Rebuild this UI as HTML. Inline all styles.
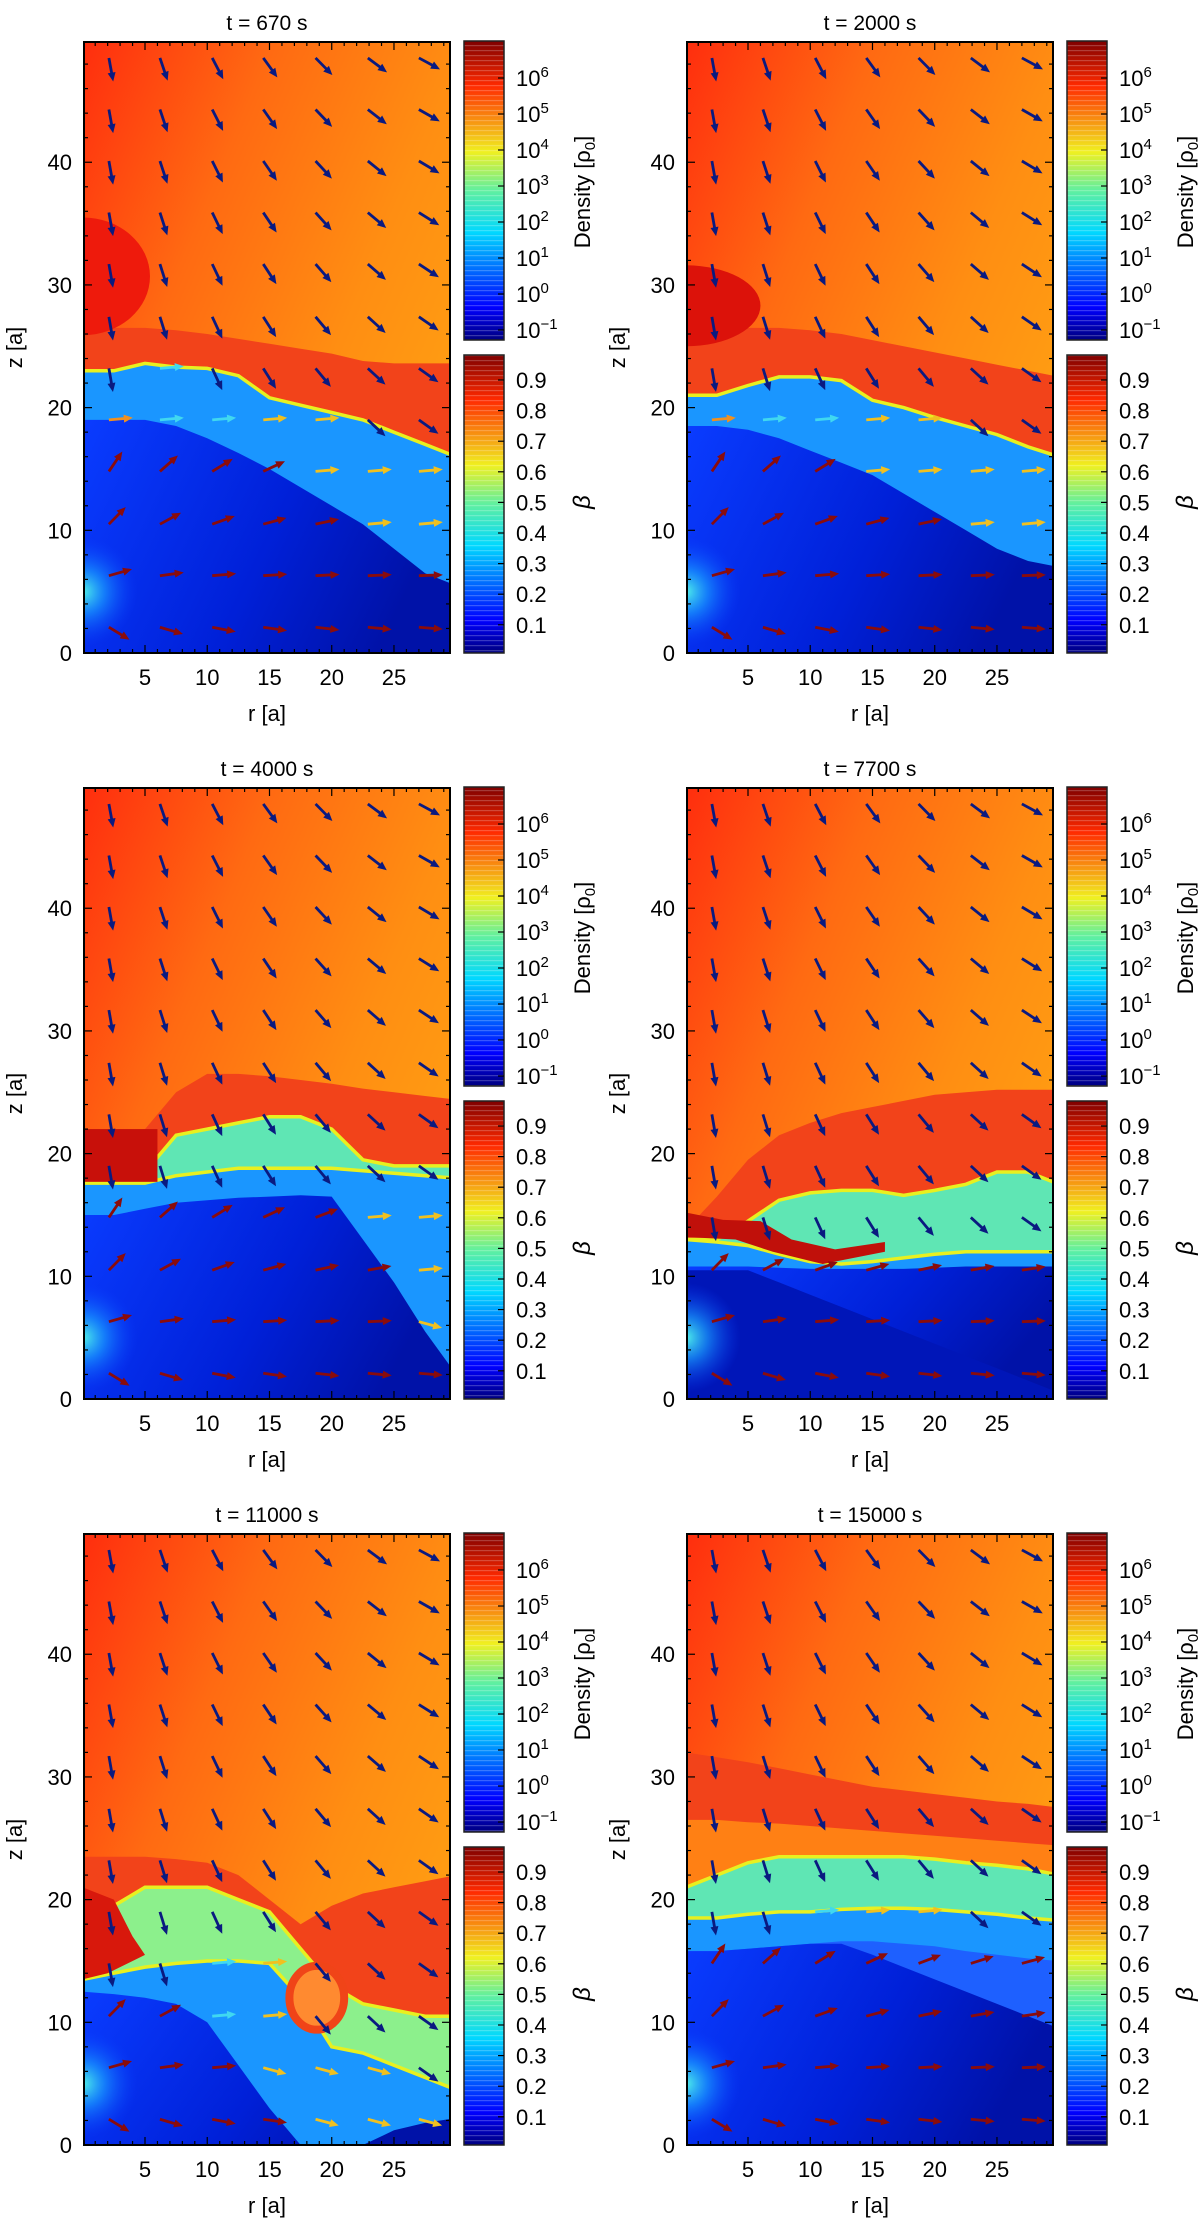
<!DOCTYPE html>
<html><head><meta charset="utf-8"><title>Density and beta snapshots</title>
<style>
html,body{margin:0;padding:0;background:#fff;}
svg text{font-family:"Liberation Sans",sans-serif;fill:#000;}
</style></head>
<body>
<svg id="fig" width="1200" height="2219" viewBox="0 0 1200 2219" xmlns="http://www.w3.org/2000/svg">
<defs>
<linearGradient id="bgGrad" x1="0" y1="0" x2="1" y2="0.7">
<stop offset="0" stop-color="#ff2e0e"/><stop offset="0.35" stop-color="#ff6a12"/><stop offset="0.7" stop-color="#ff8e12"/><stop offset="1" stop-color="#ffa012"/></linearGradient>
<linearGradient id="blueGrad" x1="0" y1="0" x2="1" y2="0.3">
<stop offset="0" stop-color="#0a3cff"/><stop offset="0.6" stop-color="#0020d8"/><stop offset="1" stop-color="#0012a8"/></linearGradient>
<radialGradient id="glow" cx="0.5" cy="0.5" r="0.5">
<stop offset="0" stop-color="#4ff0e8" stop-opacity="1"/><stop offset="0.4" stop-color="#1a9cff" stop-opacity="0.7"/><stop offset="1" stop-color="#0a3cff" stop-opacity="0"/></radialGradient>
<linearGradient id="jet" x1="0" y1="1" x2="0" y2="0">
<stop offset="0" stop-color="#00007f"/><stop offset="0.11" stop-color="#0000ff"/><stop offset="0.36" stop-color="#00d8ff"/><stop offset="0.5" stop-color="#60f0a0"/><stop offset="0.63" stop-color="#f0f020"/><stop offset="0.85" stop-color="#ff2a00"/><stop offset="1" stop-color="#7f0000"/></linearGradient>
<pattern id="stripes" width="4" height="5" patternUnits="userSpaceOnUse"><rect width="4" height="1.2" fill="#ffffff" fill-opacity="0.22"/></pattern>
</defs>
</svg>
<script>
// ---- shared grids ----
const rGrid = [0,2.5,5,7.5,10,12.5,15,17.5,20,22.5,25,27.5,30];
const panelTitles = ["t = 670 s","t = 2000 s","t = 4000 s","t = 7700 s","t = 11000 s","t = 15000 s"];
const rTicks = [5,10,15,20,25];
const zTicks = [0,10,20,30,40];
const densityTickExp = ["6","5","4","3","2","1","0","\u22121"];
const betaTicks = ["0.9","0.8","0.7","0.6","0.5","0.4","0.3","0.2","0.1"];
const arrowR = [2.1,6.2,10.4,14.5,18.7,22.9,27.0];
const arrowZ = [2.1,6.3,10.5,14.8,19.0,23.2,27.4,31.7,35.9,40.1,44.3,48.5];
// ---- per-panel structure boundaries (z in units of a, sampled on rGrid) ----
const bandTop = [
 [26.5,26.5,26.5,26.3,26,25.6,25.2,24.8,24.4,23.8,23.6,23.6,23.6],
 [26.5,26.5,26.5,26.5,26.3,26,25.5,25,24.5,24,23.5,23,22.5],
 [21.5,21.5,22,25,26.5,26.5,26.3,26,25.7,25.3,25,24.7,24.4],
 [13.8,16.5,19.5,21.5,22.5,23.3,23.8,24.3,24.8,25,25.2,25.2,25.2],
 [23.5,23.5,23.5,23.3,23,22,20,18,19.5,20.5,21,21.5,22],
 [32,31.6,31.2,30.7,30.2,29.7,29.2,28.9,28.6,28.3,28,27.8,27.5]];
const bandBottom = [null,null,null,null,null,
 [26.5,26.5,26.3,26.2,26,25.8,25.6,25.4,25.2,25,24.8,24.6,24.4]];
const greenTop = [null,null,
 [18,18,18.5,21.5,22,22.5,23,23,22,19.5,19,19,19],
 [13,13,14.5,16.2,16.8,17,17,16.6,17,17.5,18.5,18.5,17.5],
 [18.5,19.5,21,21,21,20,19,16,13,11.5,11,10.5,10.5],
 [21,22,23,23.5,23.5,23.5,23.5,23.5,23.3,23,22.8,22.5,22]];
const cyanTop = [
 [23,23,23.6,23.3,23.2,22.6,20.8,20.2,19.6,19,18,17,16],
 [21,21,21.8,22.5,22.5,22.2,20.6,20,19.2,18.5,17.8,16.8,16],
 [17.6,17.6,17.6,18.2,18.5,18.8,18.8,18.8,18.8,18.6,18.4,18.2,18],
 [13,12.8,12.5,11.8,11.2,11,11.2,11.5,11.8,12,12,12,12],
 [13.5,14,14.5,14.8,15,15,14.8,12,8,7.5,6.5,5.5,4.5],
 [18.5,18.5,18.8,19,19,19.2,19.3,19.3,19.2,19,18.8,18.5,18.3]];
const blueTop = [
 [19,19,19,18.5,17.5,16.3,15,13.5,12,10.5,8.5,6.5,5.5],
 [18.5,18.5,18.2,17.5,16.5,15.5,14.5,13,11.5,10,8.5,7.5,7],
 [15,15,15.5,16,16.2,16.4,16.5,16.6,16.5,13,9.5,5.5,2],
 [10.8,10.8,10.8,10.7,10.6,10.6,10.6,10.6,10.7,10.8,10.8,10.8,10.8],
 [12.5,12.3,12,11.5,10,6.5,3,0,0,0,1.2,1.8,2.2],
 [15.8,15.8,16,16.2,16.4,16.6,16.6,16.4,16.2,15.8,15.5,15.2,15]];
const wedgeTop = [null,null,null,
 [10.5,10.5,10.5,9.5,8.5,7.5,6.5,5.5,4.5,3.5,2.5,1.5,0.5],
 null,
 [15.8,15.8,16,16.2,16.4,16.4,15.5,14.5,13.5,12.5,11.5,10.5,9.5]];
const blueFill = ['url(#blueGrad)','url(#blueGrad)','url(#blueGrad)','url(#blueGrad)','url(#blueGrad)','#1e60ff'];
const wedgeFill = [null,null,null,'#0016b8',null,'url(#blueGrad)'];

const NS = "http://www.w3.org/2000/svg";
const svg = document.getElementById('fig');
const colX = [84,687], rowY = [42,788,1534];
const PW = 366, PH = 611, R0 = 0.1, R1 = 29.5, Z1 = 49.8;

function mk(tag, attrs, parent){
  const e = document.createElementNS(NS, tag);
  for (const k in attrs) e.setAttribute(k, attrs[k]);
  (parent||svg).appendChild(e); return e;
}
function interp(arr, r){
  for (let i=0;i<rGrid.length-1;i++){
    if (r<=rGrid[i+1]){ const t=(r-rGrid[i])/(rGrid[i+1]-rGrid[i]); return arr[i]+(arr[i+1]-arr[i])*t; }
  }
  return arr[arr.length-1];
}

for (let p=0;p<6;p++){
  const L = colX[p%2], T = rowY[Math.floor(p/2)];
  const xs = r => L + (r-R0)/(R1-R0)*PW;
  const ys = z => T + PH - z/Z1*PH;
  const g = mk('g', {});
  
  
  const clipId = 'clip'+p;
  const cp = mk('clipPath', {id:clipId}, g);
  mk('rect', {x:L,y:T,width:PW,height:PH}, cp);
  const plot = mk('g', {'clip-path':'url(#'+clipId+')'}, g);
  
  
  mk('rect', {x:L,y:T,width:PW,height:PH,fill:'url(#bgGrad)'}, plot);

  function layer(arr, fill, name, stroke){
    if (!arr) return;
    let d = 'M'+xs(rGrid[0])+','+ys(0);
    rGrid.forEach((r,i)=>{ d += ' L'+xs(r).toFixed(1)+','+ys(arr[i]).toFixed(1); });
    d += ' L'+xs(30)+','+ys(0)+' Z';
    const e = mk('path', {d:d, fill:fill}, plot);
    
    
    if (stroke){
      let d2 = '';
      rGrid.forEach((r,i)=>{ d2 += (i?' L':'M')+xs(r).toFixed(1)+','+ys(arr[i]).toFixed(1); });
      const s = mk('path', {d:d2, fill:'none', stroke:stroke, 'stroke-width':3.5}, plot);
      
      
    }
  }
  layer(bandTop[p], '#f2431a', 'shock-band');
  layer(bandBottom[p], '#ff8014', 'shocked-wind');
  if (p===0){ const e=mk('ellipse',{cx:xs(0),cy:ys(30.7),rx:5.4/(R1-R0)*PW,ry:4.8/Z1*PH,fill:'#ee1a0c'},plot);
      }
  if (p===1){ const e=mk('ellipse',{cx:xs(0),cy:ys(28.3),rx:6/(R1-R0)*PW,ry:3.3/Z1*PH,fill:'#dc120a'},plot);
      }
  layer(greenTop[p], p===4 ? '#8cf08c' : '#5fe6b4', 'mixing-layer', '#e8f020');
  layer(cyanTop[p], '#1a96ff', 'wind-layer', '#e8f020');
  layer(blueTop[p], blueFill[p], 'cavity');
  layer(wedgeTop[p], wedgeFill[p], 'cavity-shadow');
  if (p===2){ const e=mk('rect',{x:xs(0),y:ys(22),width:6/(R1-R0)*PW,height:4.3/Z1*PH,fill:'#c8100a'},plot);
      }
  if (p===3){ const pts=[[0,15.2],[3,14.6],[6,14.5],[8.5,13],[12,12.2],[16,12.8],[16,12],[11,11],[7,12],[4,13],[0,13.2]];
    const e=mk('polygon',{points:pts.map(q=>xs(q[0])+','+ys(q[1])).join(' '),fill:'#c0100a'},plot);
      }
  if (p===4){
    const e=mk('polygon',{points:[[0,21],[2.5,20],[4,17],[5,15.5],[2,14],[0,13.5]].map(q=>xs(q[0])+','+ys(q[1])).join(' '),fill:'#d8180c'},plot);
     
    const s=mk('ellipse',{cx:xs(18.8),cy:ys(12),rx:2.2/(R1-R0)*PW,ry:2.6/Z1*PH,fill:'#ff8a30',stroke:'#f04418','stroke-width':8},plot);
     
  }
  const gl = mk('ellipse', {cx:xs(0), cy:ys(5), rx:55, ry:55, fill:'url(#glow)'}, plot);
   

  arrowR.forEach(r=>{ arrowZ.forEach(z=>{
    let col, ang;
    const cT = interp(cyanTop[p], r), bT = interp(blueTop[p], r);
    if (z >= cT){ col = '#0a1a80'; ang = -(84 - 1.8*r - Math.max(0,z-25)*0.3*(r/27)); }
    else if (z >= bT){ col = r<4 ? '#f09020' : (r<12 ? '#40d8f0' : '#f0c020'); ang = (z>10? 5 : -15); }
    else { col = '#8a0c0c'; ang = Math.atan2(z-5, r+1.5)*180/Math.PI*0.8; if (z<4) ang = Math.max(ang,-45); }
    const len = 24, a = ang*Math.PI/180;
    const x0 = xs(r), y0 = ys(z), x1 = x0+len*Math.cos(a), y1 = y0-len*Math.sin(a);
    const ag = mk('g', {}, plot);
    
    
    const ux=Math.cos(a), uy=-Math.sin(a), hx=x1-9*ux, hy=y1-9*uy;
    mk('line',{x1:x0,y1:y0,x2:hx+2*ux,y2:hy+2*uy,stroke:col,'stroke-width':2.8},ag);
    mk('polygon',{points:x1+','+y1+' '+(hx-4*uy)+','+(hy+4*ux)+' '+(hx+4*uy)+','+(hy-4*ux),fill:col},ag);
  });});

  const fr = mk('rect',{x:L,y:T,width:PW,height:PH,fill:'none',stroke:'#000','stroke-width':2},g);
   
  for (let r=1;r<=29;r++){ const len = r%5===0?8:4;
    mk('line',{x1:xs(r),y1:T+PH,x2:xs(r),y2:T+PH-len,stroke:'#000','stroke-width':1.2},g);
    mk('line',{x1:xs(r),y1:T,x2:xs(r),y2:T+len,stroke:'#000','stroke-width':1.2},g); }
  for (let z=2;z<=48;z+=2){ const len = z%10===0?8:4;
    mk('line',{x1:L,y1:ys(z),x2:L+len,y2:ys(z),stroke:'#000','stroke-width':1.2},g);
    mk('line',{x1:L+PW,y1:ys(z),x2:L+PW-len,y2:ys(z),stroke:'#000','stroke-width':1.2},g); }
  rTicks.forEach(v=>{ const t=mk('text',{x:xs(v),y:T+PH+32,'font-size':22,'text-anchor':'middle'},g); t.textContent=v;
      });
  zTicks.forEach(v=>{ const t=mk('text',{x:L-12,y:ys(v)+8,'font-size':22,'text-anchor':'end'},g); t.textContent=v;
      });
  const tt=mk('text',{x:L+PW/2,y:T-12,'font-size':21,'text-anchor':'middle'},g); tt.textContent=panelTitles[p];
   
  const xl=mk('text',{x:L+PW/2,y:T+PH+68,'font-size':22,'text-anchor':'middle'},g); xl.textContent='r  [a]';
   
  const zl=mk('text',{x:0,y:0,'font-size':22,'text-anchor':'middle',transform:'translate('+(L-62)+','+(T+PH/2)+') rotate(-90)'},g); zl.textContent='z [a]';
   

  const CL = L+380, CW = 40;
  [[T-1,T+298,'density-colorbar'],[T+313,T+PH,'beta-colorbar']].forEach(([y0,y1,nm])=>{
    const cg = mk('g',{},g);
    
    
    mk('rect',{x:CL,y:y0,width:CW,height:y1-y0,fill:'url(#jet)'},cg);
    mk('rect',{x:CL,y:y0,width:CW,height:y1-y0,fill:'url(#stripes)'},cg);
    mk('rect',{x:CL,y:y0,width:CW,height:y1-y0,fill:'none',stroke:'#222','stroke-width':1.5},cg);
  });
  densityTickExp.forEach((e,i)=>{ const y = T+36+i*36;
    mk('line',{x1:CL+CW-6,y1:y,x2:CL+CW,y2:y,stroke:'#000','stroke-width':1.2},g);
    const t=mk('text',{x:CL+52,y:y+8,'font-size':22},g);
     
    t.appendChild(document.createTextNode('10'));
    const s=mk('tspan',{dy:-9,'font-size':15},t); s.textContent=e; });
  betaTicks.forEach((b,i)=>{ const y = T+338+i*30.6;
    mk('line',{x1:CL+CW-6,y1:y,x2:CL+CW,y2:y,stroke:'#000','stroke-width':1.2},g);
    const t=mk('text',{x:CL+52,y:y+8,'font-size':22},g); t.textContent=b;
      });
  const dl=mk('text',{x:0,y:0,'font-size':22,'text-anchor':'middle',transform:'translate('+(CL+126)+','+(T+150)+') rotate(-90)'},g);
   
  dl.appendChild(document.createTextNode('Density [\u03c1'));
  const ds=mk('tspan',{dy:5,'font-size':15},dl); ds.textContent='0';
  const dc=mk('tspan',{dy:-5},dl); dc.textContent=']';
  const bl=mk('text',{x:0,y:0,'font-size':24,'font-style':'italic','text-anchor':'middle',transform:'translate('+(CL+126)+','+(T+460)+') rotate(-90)'},g);
  bl.textContent='\u03b2';
   
}
</script>
</body></html>
